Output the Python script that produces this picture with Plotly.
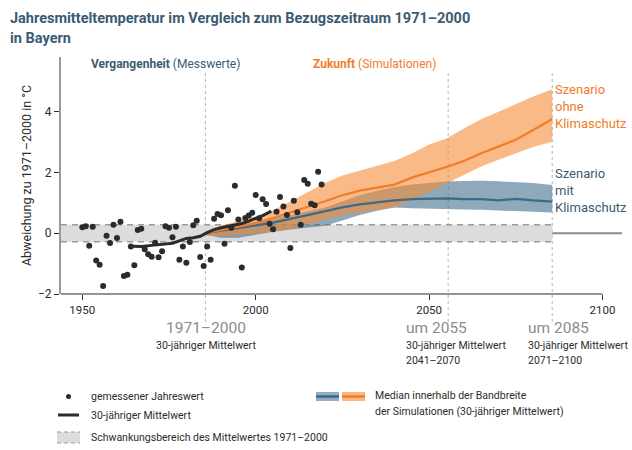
import plotly.graph_objects as go

# ---------------- data ----------------
MEAS_YEARS = list(range(1950, 2020))
MEAS_VALUES = [0.20, 0.23, -0.41, 0.21, -0.90, -1.04, -1.74, -0.08, -0.32, 0.28,
               -0.16, 0.38, -1.41, -1.37, -0.44, -1.05, 0.11, 0.15, -0.53, -0.69,
               -0.77, -0.31, -0.79, -0.59, 0.23, 0.18, -0.13, 0.21, -0.87, -0.44,
               -0.97, -0.29, 0.26, 0.41, -0.78, -1.08, -0.44, -0.87, 0.48, 0.63,
               0.59, -0.35, 0.76, 0.18, 1.56, 0.45, -1.13, 0.50, 0.58, 0.67,
               1.26, 0.49, 1.12, 0.96, 0.31, 0.13, 0.71, 1.19, 0.88, 0.60,
               -0.49, 1.07, 0.69, 0.28, 1.75, 1.63, 0.97, 0.92, 2.02, 1.60]

MEAN_YEARS = [1964.5, 1967, 1970, 1973, 1976, 1978, 1980, 1982, 1984, 1986,
              1988, 1990, 1992, 1994, 1996, 1998, 2000, 2002, 2004.5]
MEAN_VALUES = [-0.43, -0.44, -0.40, -0.36, -0.33, -0.25, -0.17, -0.15, -0.10, 0.02,
               0.12, 0.18, 0.23, 0.28, 0.32, 0.40, 0.48, 0.58, 0.73]

SIM_YEARS = [1985.5, 1990, 1995, 2000, 2005, 2010, 2015, 2020, 2025, 2030, 2035,
             2040, 2045, 2050, 2055, 2060, 2065, 2070, 2075, 2080, 2085.5]
ORANGE_MED = [0.0, 0.10, 0.20, 0.33, 0.50, 0.68, 0.85, 1.05, 1.25, 1.40, 1.50,
              1.60, 1.83, 2.00, 2.18, 2.38, 2.63, 2.85, 3.08, 3.40, 3.76]
ORANGE_HI = [0.05, 0.25, 0.40, 0.55, 0.75, 1.05, 1.35, 1.65, 1.90, 2.05, 2.22,
             2.38, 2.62, 2.92, 3.12, 3.45, 3.75, 4.00, 4.25, 4.50, 4.74]
ORANGE_LO = [-0.08, -0.10, -0.05, 0.00, 0.05, 0.14, 0.28, 0.45, 0.58, 0.68, 0.76,
             0.85, 1.08, 1.36, 1.65, 1.92, 2.20, 2.42, 2.63, 2.84, 3.01]
BLUE_MED = [0.0, 0.08, 0.15, 0.25, 0.35, 0.47, 0.60, 0.74, 0.85, 0.95, 1.02,
            1.08, 1.12, 1.14, 1.15, 1.12, 1.12, 1.08, 1.13, 1.08, 1.04]
BLUE_HI = [0.05, 0.18, 0.28, 0.38, 0.48, 0.60, 0.72, 0.85, 1.05, 1.25, 1.40,
           1.52, 1.60, 1.65, 1.70, 1.72, 1.73, 1.71, 1.68, 1.65, 1.59]
BLUE_LO = [-0.05, -0.15, -0.15, -0.05, 0.05, 0.12, 0.18, 0.25, 0.42, 0.60, 0.74,
           0.85, 0.82, 0.80, 0.78, 0.78, 0.77, 0.75, 0.73, 0.71, 0.68]

REF_BAND = 0.28           # half width of Schwankungsbereich
MARK_YEARS = [1985.5, 2055.5, 2085.5]
X_TICKS = [1950, 2000, 2050, 2100]
Y_TICKS = [-2, 0, 2, 4]
Y_TICK_TEXT = ["\u22122", "0", "2", "4"]

# ---------------- layout geometry ----------------
W, H = 632, 450
L, R, T, B = 61, 10, 57, 156
PW, PH = W - L - R, H - T - B
X_MIN, X_MAX = 1943.86, 2105.62
Y_MIN, Y_MAX = -2.0, 5.8


def pxx(p):
    return (p - L) / PW


def pxy(p):
    return (H - B - p) / PH


FONT = "Roboto, Lato, Liberation Sans, sans-serif"
TEAL = "#3a5b72"
ORANGE = "#ef7d2c"
GREY_TXT = "#8c8c8c"
DARK = "#2b2b2b"

fig = go.Figure()

# simulation bands
fig.add_trace(go.Scatter(x=SIM_YEARS, y=BLUE_HI, mode="lines", line=dict(width=0),
                         showlegend=False, hoverinfo="skip"))
fig.add_trace(go.Scatter(x=SIM_YEARS, y=BLUE_LO, mode="lines", line=dict(width=0),
                         fill="tonexty", fillcolor="rgba(60,105,140,0.58)",
                         showlegend=False, hoverinfo="skip"))
fig.add_trace(go.Scatter(x=SIM_YEARS, y=ORANGE_HI, mode="lines", line=dict(width=0),
                         showlegend=False, hoverinfo="skip"))
fig.add_trace(go.Scatter(x=SIM_YEARS, y=ORANGE_LO, mode="lines", line=dict(width=0),
                         fill="tonexty", fillcolor="rgba(246,140,55,0.6)",
                         showlegend=False, hoverinfo="skip"))
fig.add_trace(go.Scatter(x=SIM_YEARS, y=BLUE_MED, mode="lines",
                         line=dict(color="#3d6a88", width=2.2), showlegend=False))
fig.add_trace(go.Scatter(x=SIM_YEARS, y=ORANGE_MED, mode="lines",
                         line=dict(color="#ef7d2c", width=2.2), showlegend=False))

# measured
fig.add_trace(go.Scatter(x=MEAN_YEARS, y=MEAN_VALUES, mode="lines",
                         line=dict(color=DARK, width=3), showlegend=False))
fig.add_trace(go.Scatter(x=MEAS_YEARS, y=MEAS_VALUES, mode="markers",
                         marker=dict(size=6, color=DARK), cliponaxis=False,
                         showlegend=False))

shapes = []
# reference band
shapes.append(dict(type="rect", xref="x", yref="y", x0=X_MIN, x1=MARK_YEARS[-1],
                   y0=-REF_BAND, y1=REF_BAND, fillcolor="#dcdcdc", line=dict(width=0),
                   layer="below"))
for yv in (-REF_BAND, REF_BAND):
    shapes.append(dict(type="line", xref="x", yref="y", x0=X_MIN, x1=MARK_YEARS[-1],
                       y0=yv, y1=yv, line=dict(color="#9a9a9a", width=1.5, dash="6px,5px"),
                       layer="below"))
shapes.append(dict(type="line", xref="paper", yref="y", x0=0, x1=1, y0=0, y1=0,
                   line=dict(color="#8a8a8a", width=2), layer="below"))
# vertical dotted markers
for xv in MARK_YEARS:
    shapes.append(dict(type="line", xref="x", yref="paper", x0=xv, x1=xv,
                       y0=pxy(322), y1=pxy(73),
                       line=dict(color="#b5b5b5", width=1, dash="dot"), layer="below"))
# x axis line (ends at 2100)
shapes.append(dict(type="line", xref="x", yref="paper", x0=X_MIN, x1=X_TICKS[-1],
                   y0=0, y1=0, line=dict(color=DARK, width=1.2)))

# legend swatches
shapes.append(dict(type="circle", xref="paper", yref="paper",
                   x0=pxx(66), x1=pxx(71), y0=pxy(399), y1=pxy(394),
                   fillcolor=DARK, line=dict(width=0)))
shapes.append(dict(type="line", xref="paper", yref="paper",
                   x0=pxx(58), x1=pxx(79), y0=pxy(415), y1=pxy(415),
                   line=dict(color=DARK, width=3)))
shapes.append(dict(type="rect", xref="paper", yref="paper",
                   x0=pxx(57), x1=pxx(80), y0=pxy(443), y1=pxy(432),
                   fillcolor="#dcdcdc", line=dict(width=0)))
for yy in (432, 443):
    shapes.append(dict(type="line", xref="paper", yref="paper",
                       x0=pxx(57), x1=pxx(80), y0=pxy(yy), y1=pxy(yy),
                       line=dict(color="#9a9a9a", width=1.2, dash="4px,3px")))
shapes.append(dict(type="rect", xref="paper", yref="paper",
                   x0=pxx(316), x1=pxx(339), y0=pxy(401), y1=pxy(392),
                   fillcolor="#94acc0", line=dict(width=0)))
shapes.append(dict(type="line", xref="paper", yref="paper",
                   x0=pxx(316), x1=pxx(339), y0=pxy(396.5), y1=pxy(396.5),
                   line=dict(color="#3d6a88", width=2.5)))
shapes.append(dict(type="rect", xref="paper", yref="paper",
                   x0=pxx(342), x1=pxx(365), y0=pxy(401), y1=pxy(392),
                   fillcolor="#f9b884", line=dict(width=0)))
shapes.append(dict(type="line", xref="paper", yref="paper",
                   x0=pxx(342), x1=pxx(365), y0=pxy(396.5), y1=pxy(396.5),
                   line=dict(color="#ef7d2c", width=2.5)))

ann = []


def text(x, y, s, size, color, xanchor="left"):
    ann.append(dict(x=pxx(x), y=pxy(y), xref="paper", yref="paper", text=s,
                    showarrow=False, xanchor=xanchor, yanchor="middle",
                    font=dict(family=FONT, size=size, color=color), align="left"))


text(8, 19, "<b>Jahresmitteltemperatur im Vergleich zum Bezugszeitraum 1971\u20132000</b>", 14.5, TEAL)
text(8, 38, "<b>in Bayern</b>", 14.5, TEAL)
text(89, 64, "<b>Vergangenheit</b> (Messwerte)", 12, TEAL)
text(311, 64, "<b>Zukunft</b> (Simulationen)", 12, ORANGE)
text(553, 89, "Szenario", 13, ORANGE)
text(553, 106, "ohne", 13, ORANGE)
text(553, 123, "Klimaschutz", 13, ORANGE)
text(553, 173, "Szenario", 13, TEAL)
text(553, 190, "mit", 13, TEAL)
text(553, 207, "Klimaschutz", 13, TEAL)

text(206, 328, "1971\u20132000", 15.5, GREY_TXT, "center")
text(206, 345, "30-j\u00e4hriger Mittelwert", 10.5, DARK, "center")
text(404, 328, "um 2055", 15.5, GREY_TXT)
text(404, 345, "30-j\u00e4hriger Mittelwert", 10.5, DARK)
text(404, 361, "2041\u20132070", 10.5, DARK)
text(526, 328, "um 2085", 15.5, GREY_TXT)
text(526, 345, "30-j\u00e4hriger Mittelwert", 10.5, DARK)
text(526, 361, "2071\u20132100", 10.5, DARK)

text(89, 396, "gemessener Jahreswert", 10.5, DARK)
text(89, 415, "30-j\u00e4hriger Mittelwert", 10.5, DARK)
text(89, 437, "Schwankungsbereich des Mittelwertes 1971\u20132000", 10.5, DARK)
text(373, 395, "Median innerhalb der Bandbreite", 10.5, DARK)
text(373, 411, "der Simulationen (30-j\u00e4hriger Mittelwert)", 10.5, DARK)

fig.update_layout(
    width=W, height=H, margin=dict(l=L, r=R, t=T, b=B, autoexpand=False),
    plot_bgcolor="white", paper_bgcolor="white",
    shapes=shapes, annotations=ann, showlegend=False,
    xaxis=dict(range=[X_MIN, X_MAX], showgrid=False, zeroline=False, showline=False,
               automargin=False,
               tickvals=X_TICKS, ticks="outside", ticklen=5, tickcolor=DARK,
               tickfont=dict(family=FONT, size=11.5, color=DARK)),
    yaxis=dict(range=[Y_MIN, Y_MAX], showgrid=False, zeroline=False, showline=True,
               automargin=False,
               linecolor="#9a9a9a", linewidth=2, tickvals=Y_TICKS, ticktext=Y_TICK_TEXT,
               ticks="outside", ticklen=5, tickcolor=DARK,
               tickfont=dict(family=FONT, size=12, color=DARK),
               title=dict(text="Abweichung zu 1971\u20132000 in \u00b0C", standoff=4,
                          font=dict(family=FONT, size=12.5, color=DARK))),
)

fig.write_html("out.html",
               config={"displayModeBar": False, "staticPlot": True},
               post_script="document.body.style.margin='0';"
                           "document.body.style.overflow='hidden';")
